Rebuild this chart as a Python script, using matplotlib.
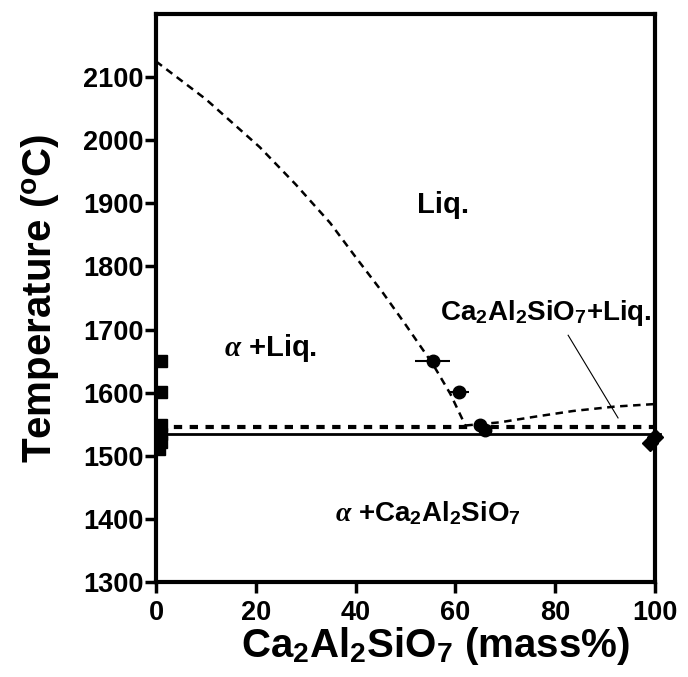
import matplotlib
matplotlib.use('Agg')
import matplotlib.pyplot as plt

plt.rcParams['font.family'] = 'Liberation Sans'
plt.rcParams['font.weight'] = 'bold'
plt.rcParams['axes.labelweight'] = 'bold'
plt.rcParams['mathtext.fontset'] = 'custom'
plt.rcParams['mathtext.rm'] = 'Liberation Sans:bold'
plt.rcParams['mathtext.bf'] = 'Liberation Sans:bold'
plt.rcParams['mathtext.it'] = 'Liberation Serif:italic'

# liquidus of alpha (dashed curve)
liq_x = [0, 10, 20.8, 28, 34.9, 40, 45.5, 50, 55.5, 59, 62]
liq_t = [2125, 2065, 1989, 1930, 1869, 1815, 1758, 1708, 1645, 1598, 1548]

# liquidus of Ca2Al2SiO7 (dashed curve)
gh_x = [62, 68.9, 76, 83.6, 92, 100]
gh_t = [1548, 1553, 1562, 1571, 1578, 1582]

# eutectic / solidus levels
eut_dash_t = 1546
eut_solid_t = 1535

# experimental points
sq_x = [1, 1, 1, 1, 1, 0.6]
sq_t = [1650, 1601, 1549, 1535, 1522, 1510]

circ_x = [55.5, 60.7, 65, 66]
circ_t = [1650, 1601, 1549, 1541]
circ_err = [3.5, 2, 0, 0]

dia_x = [100, 99]
dia_t = [1530, 1520]

fig = plt.figure(figsize=(6.88, 6.77), dpi=100)
ax = fig.add_axes([0.2267, 0.1403, 0.7253, 0.8390])

ax.plot(liq_x, liq_t, color='black', lw=1.8, dashes=(3, 2.2))
ax.plot(gh_x, gh_t, color='black', lw=1.8, dashes=(3, 2.2))
ax.plot([0.5, 100], [eut_dash_t, eut_dash_t], color='black', lw=3, dashes=(2, 1.8))
ax.plot([0, 101], [eut_solid_t, eut_solid_t], color='black', lw=2, clip_on=False)

ax.plot(sq_x, sq_t, 's', color='black', ms=8.5, zorder=2)
ax.errorbar(circ_x, circ_t, xerr=circ_err, fmt='o', color='black', ms=9,
            elinewidth=1.5, capsize=0, zorder=3)
ax.plot(dia_x, dia_t, 'D', color='black', ms=8, clip_on=False, zorder=4)

# leader line to the label
ax.plot([82.6, 92.6], [1691, 1560], color='black', lw=0.8)

ax.text(57.5, 1897, 'Liq.', fontsize=21, ha='center', va='center')
ax.text(23, 1671, r'$\alpha$ +Liq.', fontsize=21, ha='center', va='center')
ax.text(78.2, 1726, r'Ca$_2$Al$_2$SiO$_7$+Liq.', fontsize=20, ha='center', va='center')
ax.text(54.5, 1409, r'$\alpha$ +Ca$_2$Al$_2$SiO$_7$', fontsize=20, ha='center', va='center')

ax.set_xlim(0, 100)
ax.set_ylim(1300, 2200)
ax.set_xticks(range(0, 101, 20))
ax.set_yticks(range(1300, 2101, 100))
ax.tick_params(direction='out', length=8, width=2.5, labelsize=19.5)
ax.tick_params(axis='x', pad=5)
ax.tick_params(axis='y', pad=1)
for s in ax.spines.values():
    s.set_linewidth(3)

ax.set_xlabel(r'Ca$_2$Al$_2$SiO$_7$ (mass%)', fontsize=29, labelpad=3)
ax.xaxis.set_label_coords(0.559, -0.075)
ax.set_ylabel(r'Temperature ($^{\mathrm{o}}$C)', fontsize=29, labelpad=16)

fig.savefig('out.png', dpi=100)
